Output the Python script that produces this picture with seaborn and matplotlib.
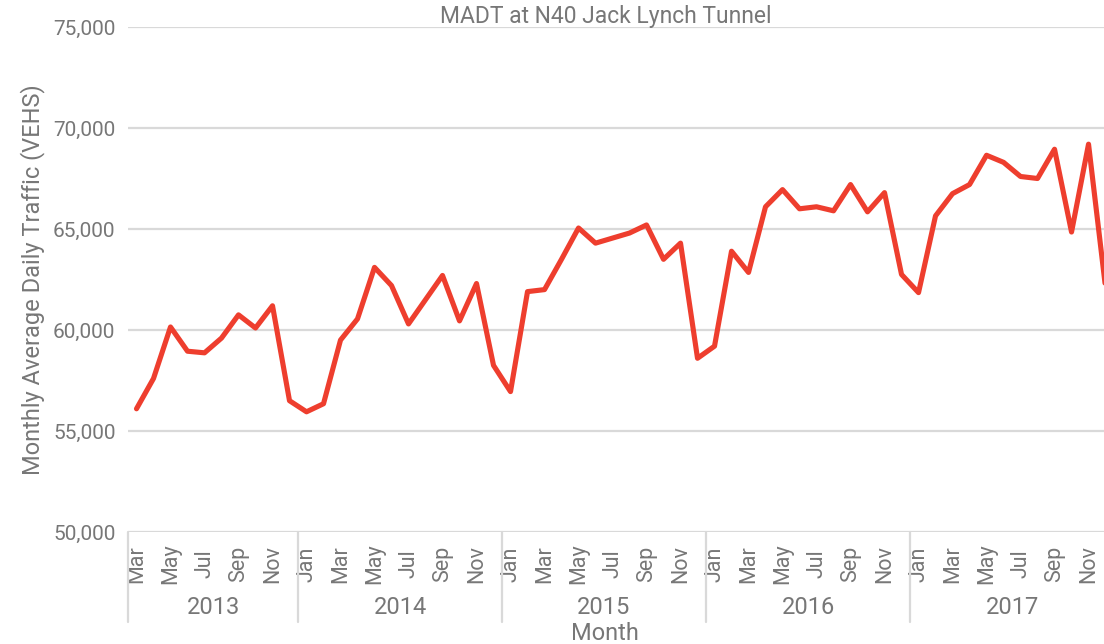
import numpy as np
import pandas as pd
import matplotlib
matplotlib.use("Agg")
import matplotlib.pyplot as plt
import matplotlib.transforms as mtransforms
import seaborn as sns

# Monthly average daily traffic, Mar 2013 - Dec 2017
years = ["2013", "2014", "2015", "2016", "2017"]
months_2013 = ["Mar", "Apr", "May", "Jun", "Jul", "Aug", "Sep", "Oct", "Nov", "Dec"]
months_full = ["Jan", "Feb", "Mar", "Apr", "May", "Jun",
               "Jul", "Aug", "Sep", "Oct", "Nov", "Dec"]

madt_2013 = [56100, 57600, 60150, 58950, 58870, 59600, 60750, 60100, 61200, 56500]
madt_2014 = [55950, 56350, 59500, 60550, 63100, 62200, 60300, 61500, 62700, 60450, 62300, 58250]
madt_2015 = [56950, 61900, 62000, 63500, 65050, 64300, 64550, 64800, 65200, 63500, 64300, 58600]
madt_2016 = [59200, 63900, 62850, 66100, 66950, 66000, 66100, 65900, 67200, 65850, 66800, 62750]
madt_2017 = [61850, 65650, 66750, 67200, 68650, 68300, 67600, 67500, 68950, 64850, 69200, 62100]

y_ticks = [50000, 55000, 60000, 65000, 70000, 75000]

series = [madt_2013, madt_2014, madt_2015, madt_2016, madt_2017]
month_lists = [months_2013] + [months_full] * 4

rows = []
for yr, mlist, vals in zip(years, month_lists, series):
    for m, v in zip(mlist, vals):
        rows.append({"year": yr, "month": m, "madt": v})
df = pd.DataFrame(rows)
df["idx"] = np.arange(len(df))

sns.set_theme(style="white")
plt.rcParams["font.family"] = ["Roboto", "DejaVu Sans"]

grey = "#777777"
grid_c = "#d9d9d9"

fig = plt.figure(figsize=(11.04, 6.44), dpi=100)
ax = fig.add_axes([128 / 1104, 1 - 532 / 644, (1104 - 128) / 1104, (532 - 27) / 644])

sns.lineplot(data=df, x="idx", y="madt", color="#ee3e2e", linewidth=3.7, ax=ax)

ax.set_ylim(50000, 75000)
ax.set_xlim(-0.5, 56.91)
ax.set_yticks(y_ticks)
ax.set_yticklabels([f"{v:,}" for v in y_ticks], color=grey, fontsize=15)
for v in y_ticks:
    ax.axhline(v, color=grid_c, linewidth=1.6, zorder=0)

for s in ax.spines.values():
    s.set_visible(False)

# Every other month labelled, rotated and centred on a common line
tick_idx = df["idx"].values[::2]
ax.set_xticks(tick_idx)
ax.set_xticklabels(df["month"].values[::2], rotation=90, color=grey, fontsize=15.5,
                   va="center", ha="center")
ax.tick_params(axis="x", length=0, pad=23)
ax.tick_params(axis="y", length=0, pad=9)

ax.set_xlabel("")
ax.set_ylabel("Monthly Average Daily Traffic (VEHS)", color=grey, fontsize=17, labelpad=6)

# Year groups: separators and centred labels
trans = mtransforms.blended_transform_factory(ax.transData, ax.transAxes)
start = 0
for yr, mlist in zip(years, month_lists):
    n = len(mlist)
    ax.plot([start - 0.5, start - 0.5], [0, -0.178], transform=trans, color=grid_c,
            linewidth=1.6, clip_on=False)
    ax.text(start + (n - 1) / 2, -0.150, yr, transform=trans, ha="center", va="center",
            color=grey, fontsize=17)
    start += n

ax.text(0.489, -0.200, "Month", transform=ax.transAxes, ha="center", va="center",
        color=grey, fontsize=17)
ax.text(0.489, 1.02, "MADT at N40 Jack Lynch Tunnel", transform=ax.transAxes,
        ha="center", va="center", color=grey, fontsize=16.5)

fig.savefig("out.png", dpi=100)
